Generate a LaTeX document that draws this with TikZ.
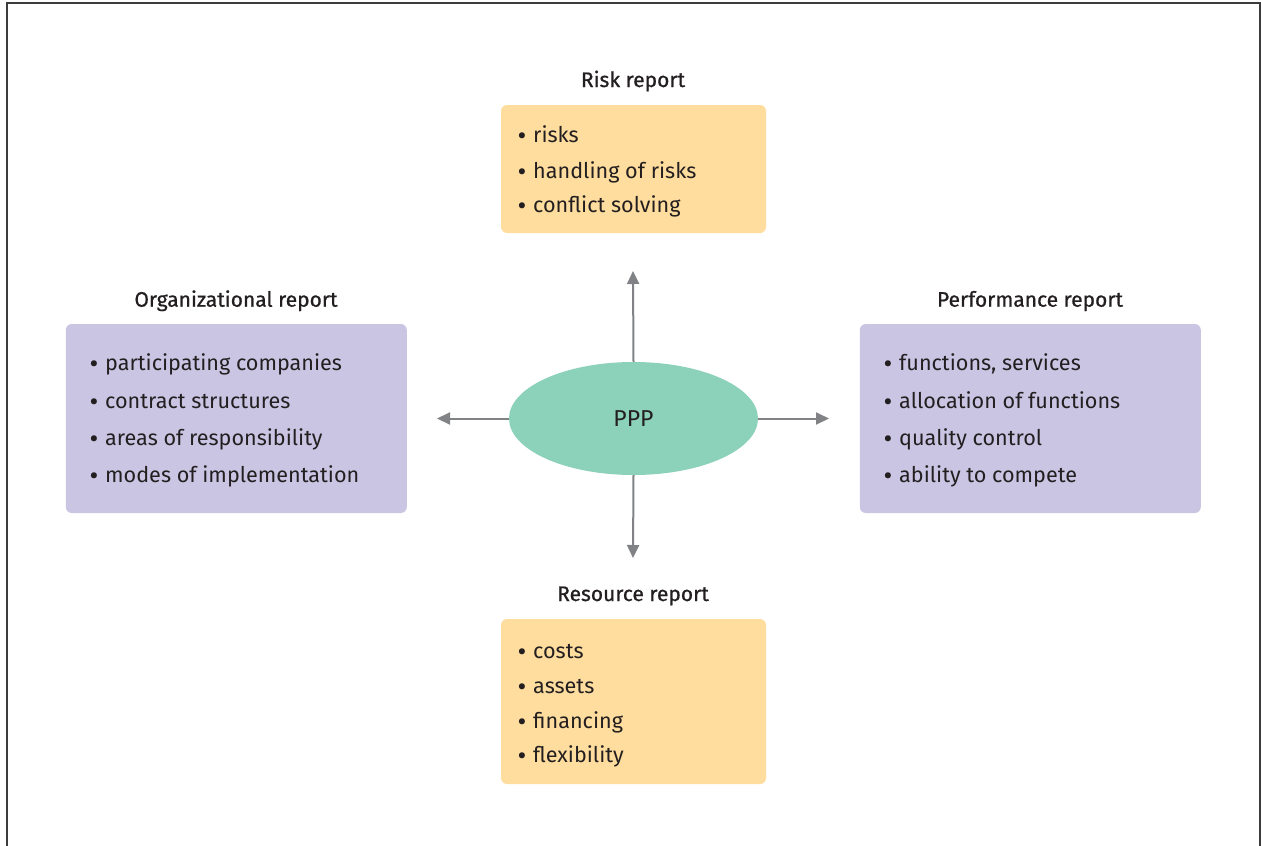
\documentclass[tikz,border=0pt]{standalone}
\usepackage{fontspec}
\setmainfont{Fira Sans}
\newfontfamily\titlefont[FakeBold=0.8]{Fira Sans}
\newfontfamily\bulfont{PT Sans}
\usetikzlibrary{arrows.meta,shapes.geometric}
\definecolor{boxY}{RGB}{254,221,158}
\definecolor{boxP}{RGB}{201,197,227}
\definecolor{ellC}{RGB}{140,209,185}
\definecolor{arrG}{RGB}{128,130,133}
\definecolor{txt}{RGB}{35,31,32}
\definecolor{frameC}{RGB}{60,60,60}
\begin{document}
\begin{tikzpicture}[x=1pt,y=-1pt,
  box/.style={draw=none,rounded corners=6pt,inner sep=0pt},
  ybox/.style={box,fill=boxY,minimum width=265pt},
  pbox/.style={box,fill=boxP,minimum width=341pt,minimum height=189pt},
  item/.style={anchor=base west,inner sep=0pt,text=txt,font=\fontsize{21.6}{25}\selectfont},
  ttl/.style={anchor=base,inner sep=0pt,text=txt,font=\titlefont\fontsize{21}{25}\selectfont},
  arr/.style={draw=arrG,line width=2pt,-{Triangle[length=13pt,width=12pt]}}
]
\newcommand{\bul}[1]{\makebox[16pt][l]{\bulfont\textbullet}#1}
\useasboundingbox (0,0) rectangle (1262,846);
\draw[frameC,line width=1.5pt] (7,846) -- (7,3) -- (1260,3) -- (1260,846);

% Risk report
\node[ttl] (riskt) at (633,87) {Risk report};
\node[ybox,minimum height=128pt] (riskbox) at (633.5,169) {};
\node[item] (r1) at (517,142.7) {\bul{risks}};
\node[item] (r2) at (517,178) {\bul{handling of risks}};
\node[item] (r3) at (517,212) {\bul{conflict solving}};

% Organizational report
\node[ttl] (orgt) at (236,306.7) {Organizational report};
\node[pbox] (orgbox) at (236.3,418.5) {};
\node[item] (o1) at (89,370.7) {\bul{participating companies}};
\node[item] (o2) at (89,408) {\bul{contract structures}};
\node[item] (o3) at (89,445.5) {\bul{areas of responsibility}};
\node[item] (o4) at (89,482.7) {\bul{modes of implementation}};

% Performance report
\node[ttl] (perft) at (1030,306.7) {Performance report};
\node[pbox] (perfbox) at (1030.3,418.5) {};
\node[item] (p1) at (883,370.7) {\bul{functions, services}};
\node[item] (p2) at (883,408) {\bul{allocation of functions}};
\node[item] (p3) at (883,445.5) {\bul{quality control}};
\node[item] (p4) at (883,482.7) {\bul{ability to compete}};

% Resource report
\node[ttl] (rest) at (633,601) {Resource report};
\node[ybox,minimum height=165pt] (resbox) at (633.5,701.5) {};
\node[item] (s1) at (517,658) {\bul{costs}};
\node[item] (s2) at (517,693) {\bul{assets}};
\node[item] (s3) at (517,728) {\bul{financing}};
\node[item] (s4) at (517,762) {\bul{flexibility}};

% Center
\node[ellipse,fill=ellC,minimum width=249pt,minimum height=113pt,inner sep=0pt,text=txt,font=\fontsize{23}{27}\selectfont] (ppp) at (633.5,418.5) {PPP};

\coordinate (upT) at (633,271);
\coordinate (dnT) at (633,558);
\coordinate (lfT) at (437,418.5);
\coordinate (rtT) at (829,418.5);
\draw[arr] (ppp.north) -- (upT);
\draw[arr] (ppp.south) -- (dnT);
\draw[arr] (ppp.west) -- (lfT);
\draw[arr] (ppp.east) -- (rtT);
\end{tikzpicture}
\end{document}
